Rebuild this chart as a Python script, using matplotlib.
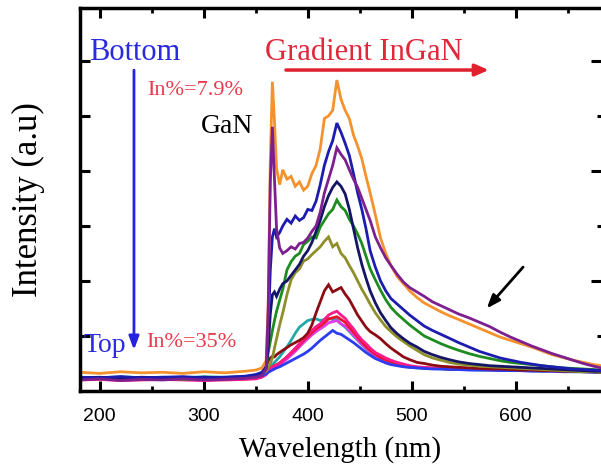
import matplotlib
matplotlib.use("Agg")
import matplotlib.pyplot as plt
from matplotlib.ticker import MultipleLocator

# ---------------- data ----------------
wavelength = [180, 200, 220, 240, 260, 280, 300, 320, 340, 350, 356, 360, 362, 364, 366, 368, 370,
              373, 376, 380, 384, 388, 392, 396, 400, 404, 408, 412, 416, 420, 424, 428, 432, 436,
              440, 444, 448, 452, 456, 460, 465, 470, 475, 480, 486, 492, 498, 505, 512, 520, 528,
              536, 545, 555, 565, 575, 585, 595, 605, 615, 625, 635, 645, 655, 665, 675, 682]

teal = [0.25, 0.24, 0.26, 0.24, 0.25, 0.24, 0.26, 0.25, 0.26, 0.28, 0.30, 0.36, 0.40, 0.44, 0.48, 0.52, 0.56,
        0.62, 0.70, 0.80, 0.92, 1.05, 1.16, 1.22, 1.28, 1.30, 1.31, 1.28, 1.30, 1.32, 1.30, 1.30, 1.22, 1.16,
        1.08, 1.00, 0.92, 0.84, 0.77, 0.70, 0.63, 0.58, 0.54, 0.50, 0.47, 0.45, 0.43, 0.42, 0.41, 0.41, 0.40,
        0.40, 0.39, 0.39, 0.38, 0.38, 0.38, 0.37, 0.37, 0.37, 0.36, 0.36, 0.36, 0.35, 0.35, 0.35, 0.34]

magenta = [0.21, 0.22, 0.20, 0.21, 0.22, 0.21, 0.20, 0.21, 0.22, 0.23, 0.26, 0.30, 0.34, 0.37, 0.40, 0.42, 0.44,
           0.47, 0.52, 0.58, 0.65, 0.72, 0.80, 0.88, 0.95, 1.02, 1.08, 1.13, 1.18, 1.24, 1.26, 1.28, 1.22, 1.18,
           1.10, 1.02, 0.93, 0.85, 0.78, 0.71, 0.64, 0.59, 0.55, 0.51, 0.48, 0.46, 0.44, 0.43, 0.42, 0.41, 0.41,
           0.40, 0.40, 0.39, 0.39, 0.38, 0.38, 0.38, 0.37, 0.37, 0.37, 0.36, 0.36, 0.36, 0.35, 0.35, 0.35]

red = [0.22, 0.23, 0.21, 0.22, 0.23, 0.22, 0.21, 0.22, 0.23, 0.25, 0.28, 0.33, 0.38, 0.41, 0.44, 0.46, 0.48,
       0.51, 0.56, 0.62, 0.69, 0.76, 0.84, 0.92, 0.99, 1.06, 1.13, 1.18, 1.24, 1.31, 1.33, 1.35, 1.30, 1.25,
       1.16, 1.07, 0.98, 0.89, 0.81, 0.74, 0.67, 0.61, 0.57, 0.53, 0.50, 0.47, 0.45, 0.43, 0.42, 0.41, 0.41,
       0.40, 0.40, 0.39, 0.39, 0.39, 0.38, 0.38, 0.38, 0.37, 0.37, 0.37, 0.36, 0.36, 0.36, 0.35, 0.35]

pink = [0.20, 0.21, 0.19, 0.20, 0.21, 0.20, 0.19, 0.20, 0.21, 0.22, 0.25, 0.30, 0.36, 0.40, 0.44, 0.45, 0.47,
        0.50, 0.55, 0.62, 0.70, 0.78, 0.86, 0.95, 1.02, 1.10, 1.17, 1.22, 1.30, 1.38, 1.42, 1.45, 1.38, 1.32,
        1.22, 1.13, 1.02, 0.93, 0.86, 0.78, 0.70, 0.65, 0.60, 0.56, 0.52, 0.49, 0.46, 0.44, 0.43, 0.42, 0.41,
        0.41, 0.40, 0.40, 0.39, 0.39, 0.39, 0.38, 0.38, 0.38, 0.37, 0.37, 0.37, 0.36, 0.36, 0.36, 0.35]

royal = [0.24, 0.23, 0.25, 0.23, 0.24, 0.23, 0.25, 0.24, 0.25, 0.26, 0.28, 0.31, 0.34, 0.36, 0.38, 0.40, 0.42,
         0.44, 0.47, 0.51, 0.55, 0.59, 0.63, 0.67, 0.72, 0.78, 0.85, 0.92, 0.98, 1.04, 1.10, 1.05, 1.03, 0.98,
         0.93, 0.88, 0.82, 0.76, 0.70, 0.65, 0.59, 0.55, 0.51, 0.48, 0.46, 0.44, 0.43, 0.42, 0.41, 0.40, 0.40,
         0.39, 0.39, 0.38, 0.38, 0.38, 0.37, 0.37, 0.37, 0.36, 0.36, 0.36, 0.35, 0.35, 0.35, 0.34, 0.34]

maroon = [0.24, 0.23, 0.25, 0.23, 0.24, 0.25, 0.23, 0.24, 0.25, 0.28, 0.33, 0.45, 0.55, 0.60, 0.63, 0.62, 0.66,
          0.70, 0.74, 0.79, 0.84, 0.88, 0.92, 0.97, 1.05, 1.20, 1.42, 1.62, 1.82, 1.93, 1.80, 1.84, 1.88, 1.76,
          1.66, 1.52, 1.38, 1.27, 1.16, 1.08, 1.02, 0.95, 0.86, 0.78, 0.70, 0.62, 0.57, 0.52, 0.50, 0.47, 0.45,
          0.44, 0.43, 0.42, 0.41, 0.40, 0.40, 0.39, 0.38, 0.38, 0.37, 0.37, 0.36, 0.36, 0.35, 0.35, 0.34]

olive = [0.23, 0.22, 0.24, 0.22, 0.23, 0.21, 0.23, 0.22, 0.24, 0.26, 0.30, 0.36, 0.42, 0.50, 0.60, 0.78, 0.95,
         1.20, 1.42, 1.75, 2.02, 2.15, 2.22, 2.36, 2.40, 2.48, 2.55, 2.62, 2.72, 2.80, 2.62, 2.68, 2.50, 2.42,
         2.28, 2.15, 2.00, 1.85, 1.72, 1.58, 1.42, 1.29, 1.17, 1.08, 0.98, 0.90, 0.82, 0.74, 0.66, 0.60, 0.56,
         0.52, 0.49, 0.47, 0.45, 0.44, 0.43, 0.42, 0.41, 0.40, 0.39, 0.38, 0.37, 0.36, 0.35, 0.35, 0.34]

green = [0.22, 0.23, 0.21, 0.22, 0.23, 0.22, 0.21, 0.23, 0.24, 0.27, 0.32, 0.42, 0.70, 0.90, 1.10, 1.28, 1.45,
         1.65, 1.85, 2.20, 2.35, 2.45, 2.50, 2.66, 2.72, 2.80, 2.78, 2.98, 3.10, 3.22, 3.30, 3.47, 3.35, 3.28,
         3.12, 3.00, 2.85, 2.68, 2.45, 2.22, 2.02, 1.83, 1.66, 1.52, 1.40, 1.30, 1.20, 1.10, 1.00, 0.93, 0.86,
         0.80, 0.74, 0.68, 0.63, 0.59, 0.55, 0.52, 0.50, 0.48, 0.46, 0.44, 0.42, 0.41, 0.40, 0.39, 0.38]

navy = [0.24, 0.25, 0.23, 0.25, 0.24, 0.23, 0.25, 0.24, 0.26, 0.28, 0.32, 0.42, 0.80, 1.40, 1.75, 1.80, 1.72,
        1.85, 1.95, 2.00, 2.10, 2.20, 2.30, 2.45, 2.55, 2.70, 2.90, 3.10, 3.35, 3.55, 3.70, 3.80, 3.72, 3.58,
        3.30, 2.95, 2.60, 2.30, 2.05, 1.82, 1.60, 1.42, 1.28, 1.15, 1.04, 0.95, 0.87, 0.80, 0.72, 0.66, 0.61,
        0.57, 0.53, 0.50, 0.48, 0.46, 0.45, 0.44, 0.43, 0.42, 0.41, 0.40, 0.39, 0.38, 0.37, 0.36, 0.36]

blue = [0.25, 0.24, 0.26, 0.24, 0.25, 0.26, 0.24, 0.25, 0.27, 0.30, 0.34, 0.45, 1.10, 2.20, 2.80, 2.95, 2.80,
        2.88, 3.00, 3.12, 3.05, 3.18, 3.10, 3.15, 3.30, 3.28, 3.45, 3.75, 4.10, 4.35, 4.55, 4.87, 4.70, 4.50,
        4.28, 3.95, 3.60, 3.30, 2.95, 2.55, 2.25, 2.00, 1.82, 1.68, 1.58, 1.48, 1.38, 1.28, 1.18, 1.10, 1.03,
        0.96, 0.88, 0.80, 0.72, 0.66, 0.60, 0.56, 0.52, 0.49, 0.46, 0.44, 0.42, 0.40, 0.39, 0.38, 0.37]

orange = [0.34, 0.32, 0.35, 0.33, 0.34, 0.32, 0.35, 0.33, 0.36, 0.38, 0.42, 0.55, 1.60, 4.20, 5.62, 4.90, 4.05,
          3.75, 4.02, 3.85, 3.90, 3.72, 3.80, 3.65, 3.72, 3.95, 4.10, 4.40, 4.95, 5.00, 5.10, 5.65, 5.30, 5.10,
          4.95, 4.65, 4.45, 4.22, 3.90, 3.60, 3.20, 2.78, 2.50, 2.28, 2.08, 1.95, 1.82, 1.70, 1.60, 1.52, 1.44,
          1.37, 1.30, 1.22, 1.14, 1.06, 0.98, 0.92, 0.86, 0.80, 0.73, 0.66, 0.61, 0.56, 0.52, 0.48, 0.46]

purple = [0.20, 0.22, 0.19, 0.21, 0.20, 0.22, 0.20, 0.21, 0.23, 0.25, 0.28, 0.40, 1.50, 3.80, 4.80, 3.85, 2.95,
          2.60, 2.50, 2.55, 2.62, 2.58, 2.68, 2.70, 2.78, 2.90, 3.00, 3.25, 3.60, 3.85, 4.10, 4.42, 4.30, 4.20,
          4.02, 3.85, 3.70, 3.50, 3.30, 3.10, 2.80, 2.60, 2.42, 2.28, 2.12, 1.98, 1.88, 1.80, 1.72, 1.62, 1.55,
          1.48, 1.40, 1.33, 1.25, 1.17, 1.07, 0.98, 0.90, 0.82, 0.75, 0.68, 0.62, 0.56, 0.50, 0.45, 0.42]

series = [
    (teal, "#22a8a8"), (magenta, "#e03ce6"), (red, "#e8142e"), (pink, "#ff1a8c"),
    (royal, "#2c3cf0"), (maroon, "#8c0c14"), (olive, "#8f8f2a"), (green, "#1f8c1f"),
    (navy, "#151566"), (blue, "#1c1cb0"), (orange, "#f5922e"), (purple, "#7d1f8f"),
]

x_ticks = [200, 300, 400, 500, 600]
x_tick_labels = ["200", "300", "400", "500", "600"]

# ---------------- figure ----------------
fig = plt.figure(figsize=(6.01, 4.72), dpi=100)
ax = fig.add_axes([80 / 601, 1 - 391 / 472, 521 / 601, 383 / 472])

for vals, col in series:
    ax.plot(wavelength, vals, color=col, lw=2.0, solid_joinstyle="miter")

ax.set_xlim(181, 682)
ax.set_ylim(0, 6.96)

ax.set_xticks(x_ticks)
ax.set_xticklabels(x_tick_labels, fontfamily="Liberation Sans", fontsize=14)
ax.xaxis.set_minor_locator(MultipleLocator(50))
ax.set_yticks([2, 4, 6])
ax.set_yticks([1, 3, 5], minor=True)
ax.set_yticklabels([])
ax.tick_params(axis="x", which="major", direction="in", length=7, width=2.2, top=True, pad=12)
ax.tick_params(axis="x", which="minor", direction="in", length=3.5, width=2, top=True)
ax.tick_params(axis="y", which="major", direction="in", length=7, width=2.2, right=True)
ax.tick_params(axis="y", which="minor", direction="in", length=7, width=2.2, right=True)
for t in ax.yaxis.get_minor_ticks():
    t.tick2line.set_markersize(3)

for side in ["left", "bottom", "top"]:
    ax.spines[side].set_linewidth(2.5)
ax.spines["right"].set_visible(False)

serif = "Liberation Serif"
ax.set_xlabel("Wavelength (nm)", fontfamily=serif, fontsize=21, labelpad=8)
ax.set_ylabel("Intensity (a.u)", fontfamily=serif, fontsize=25, labelpad=22)

tr = ax.transAxes
ax.text(0.017, 0.864, "Bottom", transform=tr, color="#2a2ae0", fontfamily=serif, fontsize=22, va="baseline")
ax.text(0.355, 0.864, "Gradient InGaN", transform=tr, color="#e0283a", fontfamily=serif, fontsize=22, va="baseline")
ax.text(0.129, 0.773, "In%=7.9%", transform=tr, color="#e83a4a", fontfamily=serif, fontsize=16, va="baseline")
ax.text(0.332, 0.674, "GaN", transform=tr, color="black", fontfamily=serif, fontsize=20, va="baseline", ha="right")
ax.text(0.006, 0.102, "Top", transform=tr, color="#2a2ae0", fontfamily=serif, fontsize=20, va="baseline")
ax.text(0.127, 0.115, "In%=35%", transform=tr, color="#e83a4a", fontfamily=serif, fontsize=16, va="baseline")

ax.annotate("", xy=(0.79, 0.838), xytext=(0.39, 0.838), xycoords=tr, textcoords=tr,
            arrowprops=dict(arrowstyle="-|>,head_length=0.8,head_width=0.35", color="#e0202c", lw=2.5))
ax.annotate("", xy=(0.1036, 0.10), xytext=(0.1036, 0.845), xycoords=tr, textcoords=tr,
            arrowprops=dict(arrowstyle="-|>,head_length=0.8,head_width=0.3", color="#2222e0", lw=2))
ax.annotate("", xy=(0.777, 0.21), xytext=(0.854, 0.329), xycoords=tr, textcoords=tr,
            arrowprops=dict(arrowstyle="-|>,head_length=0.8,head_width=0.3", color="black", lw=2))

fig.savefig("out.png", dpi=100)
